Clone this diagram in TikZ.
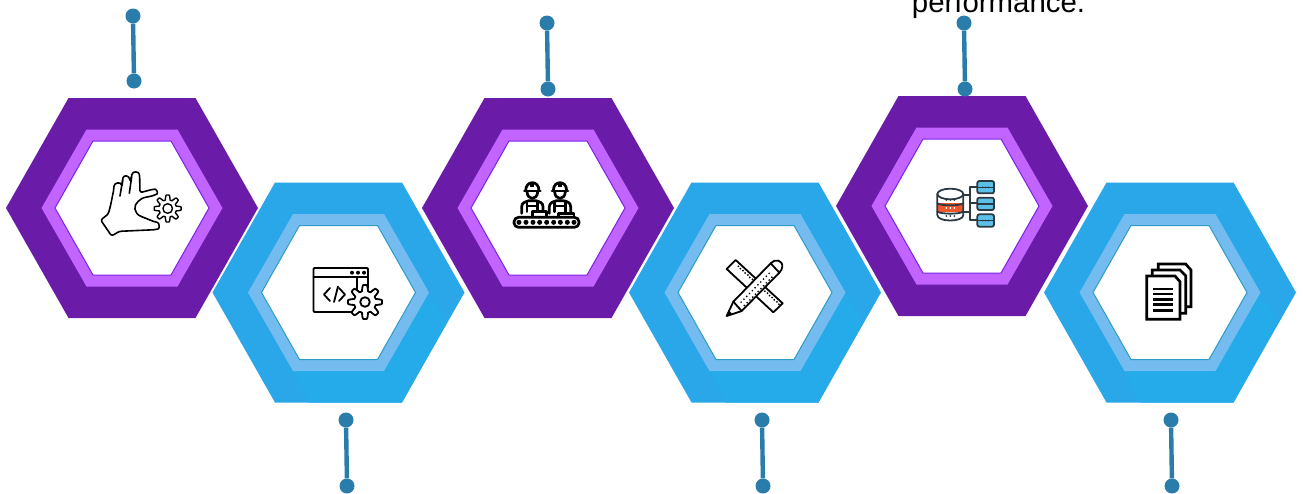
\documentclass[tikz,border=0pt]{standalone}
\usepackage{fontspec}
\setmainfont{Liberation Sans}
\definecolor{pdark}{HTML}{6A1BA8}
\definecolor{pmid}{HTML}{C264FF}
\definecolor{pline}{HTML}{7A1FE8}
\definecolor{bdark}{HTML}{29A7E8}
\definecolor{bmid}{HTML}{74BBEF}
\definecolor{bline}{HTML}{2B9CC8}
\definecolor{bglow}{HTML}{25ABE9}
\definecolor{pincol}{HTML}{2A7DAB}
\definecolor{icoorange}{HTML}{F0562B}
\definecolor{icoblue}{HTML}{5BC0E8}
\definecolor{icodark}{HTML}{2B3A42}
\tikzset{
 pindot/.style={circle,fill=pincol,inner sep=0pt,minimum size=15pt},
 pinline/.style={draw=pincol,line width=4.4pt},
 ico/.style={draw=black,line join=round,line cap=round,line width=1.8pt},
 icothick/.style={ico,line width=2.7pt},
 captiontext/.style={font=\fontsize{29.4}{30}\selectfont,anchor=base,inner sep=0pt,text=black}
}
\newcommand{\hexcell}[6]{%
 \begin{scope}[shift={(#1,#2)}]
  \path[fill=white] (-64.5,-111)--(64.5,-111)--(127.5,0)--(64.5,111)--(-64.5,111)--(-127.5,0)--cycle;
  \path[fill=#3] (-63.5,-110)--(63.5,-110)--(126,0)--(63.5,110)--(-63.5,110)--(-126,0)--cycle;
  #6
  \path[fill=#4] (-45.5,-78.5)--(45.5,-78.5)--(90.5,0)--(45.5,78.5)--(-45.5,78.5)--(-90.5,0)--cycle;
  \path[fill=white,draw=#5,line width=1pt] (-39,-67)--(39,-67)--(77,0)--(39,67)--(-39,67)--(-77,0)--cycle;
 \end{scope}}
\newcommand{\bluepatch}{\path[fill=bglow] (-45,78)--(45,78)--(90,0)--(108,30)--(63.5,110)--(-30,110)--cycle;}
\newcommand{\cog}[7][ico]{%
 \draw[#1,fill=white] plot[domain=0:360,samples=193] ({#2+(#4-#5+#5*max(-1,min(1,1.7*cos(#6*\x))))*cos(\x)},{#3+(#4-#5+#5*max(-1,min(1,1.7*cos(#6*\x))))*sin(\x)})--cycle;
 \draw[#1] (#2,#3) circle (#7);}
\begin{document}
\begin{tikzpicture}[x=1pt,y=-1pt]
\useasboundingbox (0,0) rectangle (1303,493);
\clip (0,0) rectangle (1303,493);
\fill[white] (0,0) rectangle (1303,493);
% hexagons
\hexcell{132}{208}{pdark}{pmid}{pline}{}
\hexcell{548}{208}{pdark}{pmid}{pline}{}
\hexcell{962}{206}{pdark}{pmid}{pline}{}
\hexcell{338.5}{292.5}{bdark}{bmid}{bline}{\bluepatch}
\hexcell{755}{292.5}{bdark}{bmid}{bline}{\bluepatch}
\hexcell{1170}{292.5}{bdark}{bmid}{bline}{\bluepatch}
% pins
\node[pindot] (a1) at (133,16) {};
\node[pindot] (a2) at (134,81) {};
\draw[pinline] (a1)--(a2);
\node[pindot] (b1) at (346,420) {};
\node[pindot] (b2) at (347,486) {};
\draw[pinline] (b1)--(b2);
\node[pindot] (c1) at (547,23) {};
\node[pindot] (c2) at (548,89) {};
\draw[pinline] (c1)--(c2);
\node[pindot] (d1) at (762,420) {};
\node[pindot] (d2) at (763,486) {};
\draw[pinline] (d1)--(d2);
\node[pindot] (e1) at (964,23) {};
\node[pindot] (e2) at (965,89) {};
\draw[pinline] (e1)--(e2);
\node[pindot] (f1) at (1171,420) {};
\node[pindot] (f2) at (1172,486) {};
\draw[pinline] (f1)--(f2);
% caption
\node[captiontext] (cap) at (998.5,12) {performance.};
% hand icon
\begin{scope}[shift={(90,160)},x=0.3333pt,y=-0.3333pt]
 \draw[ico,line width=1.6pt,rounded corners=2.2pt] (32,180)--(65,228)--(88,214)--(198,209)..controls (210,205) and (208,188) .. (195,186)--(160,172)..controls (130,160) and (130,135) .. (150,120)..controls (160,112) and (180,110) .. (195,105)..controls (205,100) and (200,87) .. (188,88)--(150,98)--(149,50)..controls (147,33) and (127,33) .. (125,50)--(120,65)..controls (118,45) and (100,45) .. (98,60)--(96,80)..controls (92,65) and (72,68) .. (72,85)--(62,135)--(55,162)--cycle;
 \draw[ico,line width=1.6pt] (125,50)--(118,100);
 \draw[ico,line width=1.6pt] (98,60)--(90,108);
\end{scope}
\cog[ico,line width=1.4pt]{167.7}{208.5}{13.5}{2.4}{8}{4.8}
% code window icon
\draw[ico,rounded corners=1pt] (352,312)--(313.5,312)--(313.5,268)--(368,268)--(368,288);
\draw[ico] (313.5,277)--(368,277);
\draw[ico] (357,277)--(357,290);
\fill (352,272.7) circle (2) (358,272.7) circle (2) (364,272.7) circle (2);
\draw[ico] (330,288)--(324,294.5)--(330,301);
\draw[ico] (338,286.5)--(334,302);
\draw[ico] (339,288)--(345,294.5)--(339,301);
\cog{365}{302}{17}{3}{8}{4.8}
% workers icon
\begin{scope}[shift={(500,170)},x=0.3333pt,y=-0.3333pt]
 \foreach \wx in {97,180}{
  \begin{scope}[xshift=\wx*0.3333pt]
   \draw[icothick,fill=white] (-20,62)..controls (-20,30) and (20,30) .. (20,62);
   \draw[icothick] (-24,63)--(24,63);
   \fill (-6,35) rectangle (6,50);
   \draw[icothick] (-16,65)..controls (-15,92) and (15,92) .. (16,65);
   \draw[icothick,fill=white] (-32,130)--(-32,110)..controls (-32,98) and (-20,95) .. (-10,92)--(10,92)..controls (22,95) and (32,98) .. (32,110)--(32,130);
   \draw[icothick] (-16,94)--(-16,125);
   \draw[icothick] (16,94)--(16,125);
   \draw[icothick] (-16,108)--(16,108);
  \end{scope}}
 \draw[icothick,fill=white] (98,142)--(98,124)--(140,124)--(140,142);
 \draw[icothick,fill=white] (175,142)--(175,130)--(222,130)--(222,142);
 \draw[icothick,fill=white,rounded corners=4.5pt] (42,142) rectangle (237,172);
 \foreach \dx in {57,78,99,119,140,161,181,202,222}{\fill (\dx,157) circle (7.5);}
\end{scope}
% ruler and pencil icon
\begin{scope}[shift={(710,250)},x=0.3333pt,y=-0.3333pt]
 \draw[ico,fill=white] (77,30)--(218,160)--(190,187)--(50,57)--cycle;
 \foreach \t in {0.1,0.2,0.3,0.4,0.62,0.72,0.82,0.92}{
  \fill ({77+141*\t-6},{30+130*\t+6}) circle (3);
  \fill ({77+141*\t+0},{30+130*\t+13}) circle (3);
 }
 \draw[ico,fill=white] (50,198)--(70,155)--(182,40)..controls (195,25) and (218,30) .. (217,50)..controls (217,58) and (212,62) .. (208,68)--(95,183)--cycle;
 \draw[ico] (182,40)--(208,68);
 \draw[ico] (70,155)--(95,183);
 \fill (50,198)--(57,182)--(66,191)--cycle;
 \foreach \t in {0.08,0.16,...,0.9}{
  \fill ({85+105*\t},{165-108*\t}) circle (2.8);
  \fill ({95+103*\t},{175-106*\t}) circle (2.8);
 }
\end{scope}
% database icon
\begin{scope}[shift={(920,170)},x=0.3333pt,y=-0.3333pt]
 \fill[icoorange] (52,100) rectangle (130,125);
 \draw[ico,draw=icodark] (52,72)--(52,135)..controls (52,157) and (130,157) .. (130,135)--(130,72);
 \draw[ico,draw=icodark] (91,72) ellipse [x radius=39,y radius=16];
 \draw[ico,draw=icodark] (52,100)..controls (65,108) and (117,108) .. (130,100);
 \draw[ico,draw=icodark] (52,125)..controls (65,133) and (117,133) .. (130,125);
 \foreach \y in {90,138}{\foreach \x in {79,91,103}{\fill[icodark] (\x,\y) circle (3);}}
 \foreach \x in {79,91,103}{\fill[white] (\x,114) circle (3);}
 \draw[ico,draw=icodark] (130,75)--(150,75) (130,125)--(150,125) (170,50)--(150,50)--(150,150)--(170,150) (150,100)--(170,100);
 \foreach \y in {33,83,133}{
  \draw[ico,draw=icodark,fill=icoblue,rounded corners=2pt] (172,\y) rectangle (222,\y+37);
  \draw[line width=1.2pt,draw=icodark] (172,\y+19)--(222,\y+19);
  \foreach \x in {188,197,206}{\fill[icodark] (\x,\y+19) circle (3);}
 }
\end{scope}
% documents icon
\begin{scope}[shift={(1130,260)},x=0.3333pt,y=-0.3333pt]
 \draw[icothick,line cap=butt,line join=miter] (85,28)--(85,12)--(167,12)--(183,30)--(183,140)--(170,140);
 \draw[icothick,line cap=butt,line join=miter,fill=white] (67,45)--(67,30)--(150,30)--(167,47)--(167,160)--(153,160);
 \draw[icothick,line cap=butt,line join=miter,fill=white] (50,48)--(135,48)--(150,65)--(150,178)--(50,178)--cycle;
 \foreach \y in {87,102,118,134,152}{\draw[icothick,line cap=butt] (70,\y)--(130,\y);}
\end{scope}
\end{tikzpicture}
\end{document}
